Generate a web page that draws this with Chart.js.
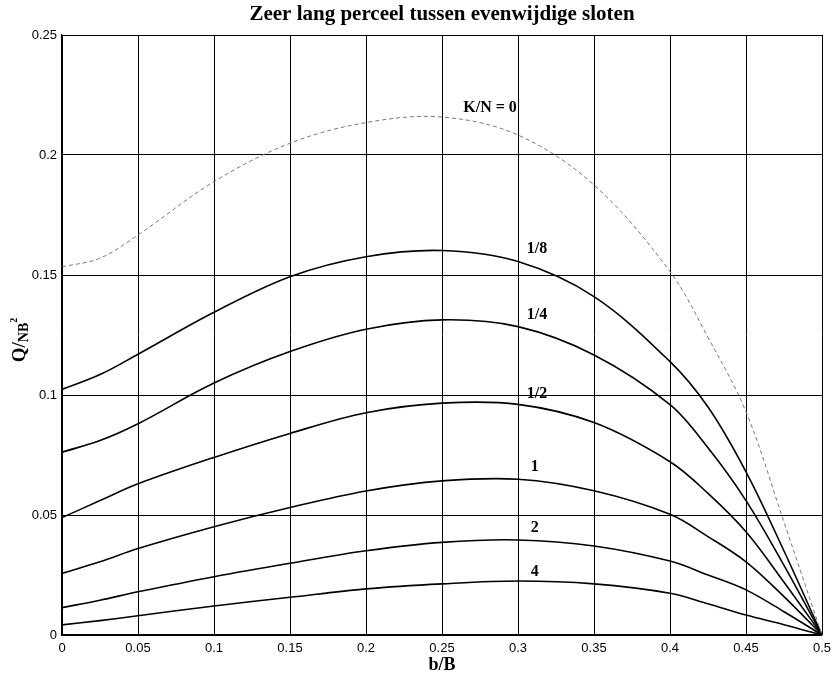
<!DOCTYPE html>
<html>
<head>
<meta charset="utf-8">
<script src="https://cdn.jsdelivr.net/npm/chart.js"></script>
<style>
  html, body { margin: 0; padding: 0; background: #fff; }
  #wrap { width: 834px; height: 678px; position: relative; }
</style>
</head>
<body>
<div id="wrap"><canvas id="myChart"></canvas></div>
<script>
"use strict"

const bOverB = [0, 0.025, 0.05, 0.1, 0.15, 0.2, 0.25, 0.3, 0.35, 0.4, 0.425, 0.45, 0.475, 0.5];

// Q/NB^2 for each K/N
const kn0   = [0.1534, 0.157, 0.1667, 0.1889, 0.2049, 0.2135, 0.2158, 0.2083, 0.1875, 0.1514, 0.124, 0.093, 0.047, 0];
const kn1_8 = [0.1023, 0.1085, 0.1170, 0.1345, 0.1493, 0.1576, 0.1602, 0.1556, 0.1410, 0.1139, 0.095, 0.068, 0.035, 0];
const kn1_4 = [0.0762, 0.0810, 0.0880, 0.1050, 0.1181, 0.1274, 0.1313, 0.1285, 0.1167, 0.096, 0.078, 0.056, 0.029, 0];
const kn1_2 = [0.0489, 0.0560, 0.0630, 0.0740, 0.0840, 0.0926, 0.0966, 0.0961, 0.0885, 0.0722, 0.059, 0.043, 0.022, 0];
const kn1   = [0.0257, 0.0305, 0.0360, 0.0451, 0.0531, 0.0600, 0.0642, 0.0649, 0.0601, 0.0503, 0.041, 0.0305, 0.016, 0];
const kn2   = [0.0114, 0.0145, 0.0180, 0.0243, 0.0299, 0.0351, 0.0386, 0.0396, 0.0371, 0.0308, 0.025, 0.0188, 0.0097, 0];
const kn4   = [0.0042, 0.0060, 0.0080, 0.0121, 0.0157, 0.0192, 0.0213, 0.0225, 0.0213, 0.0174, 0.013, 0.0083, 0.0043, 0];

const curveNames = ["K/N = 0", "1/8", "1/4", "1/2", "1", "2", "4"];
const curveData = [kn0, kn1_8, kn1_4, kn1_2, kn1, kn2, kn4];

// where the curve labels sit (in axis units)
const labelX = [0.2816, 0.3125, 0.3125, 0.3125, 0.311, 0.311, 0.311];
const labelY = [0.2198, 0.1608, 0.1335, 0.1004, 0.070, 0.0448, 0.0263];

const titleText = "Zeer lang perceel tussen evenwijdige sloten";

const ctx = document.getElementById('myChart');

const textPlugin = {
    id: 'textPlugin',
    afterDraw(chart) {
        const c = chart.ctx;
        const area = chart.chartArea;
        const x = chart.scales.x, y = chart.scales.y;
        c.save();
        c.fillStyle = '#000';

        // title
        c.font = 'bold 21px "Liberation Serif"';
        c.textAlign = 'center';
        c.textBaseline = 'alphabetic';
        c.fillText(titleText, (area.left + area.right) / 2, 20);

        // curve labels
        c.font = 'bold 16px "Liberation Serif"';
        c.textBaseline = 'middle';
        curveNames.forEach((t, i) => {
            c.fillText(t, x.getPixelForValue(labelX[i]), y.getPixelForValue(labelY[i]));
        });

        // y axis title: Q/ with subscript NB and superscript 2
        c.translate(25, 340);
        c.rotate(-Math.PI / 2);
        c.textAlign = 'left';
        c.textBaseline = 'alphabetic';
        const f1 = 'bold 19px "Liberation Serif"';
        const f2 = 'bold 14px "Liberation Serif"';
        const f3 = 'bold 10px "Liberation Serif"';
        c.font = f1; const w1 = c.measureText('Q/').width;
        c.font = f2; const w2 = c.measureText('NB').width;
        c.font = f3; const w3 = c.measureText('2').width;
        let px = -(w1 + w2 + w3) / 2;
        c.font = f1; c.fillText('Q/', px, 0); px += w1;
        c.font = f2; c.fillText('NB', px, 3); px += w2;
        c.font = f3; c.fillText('2', px, -8);
        c.restore();
    }
};

// 0.10 -> "0.1", 0.50 -> "0.5"
const shortNum = (v) => String(Number(Number(v).toFixed(2)));

new Chart(ctx, {
    type: 'line',
    data: {
        datasets: curveData.map((vals, i) => ({
            label: curveNames[i],
            data: bOverB.map((b, j) => ({ x: b, y: vals[j] })),
            borderColor: i === 0 ? '#777' : '#000',
            borderWidth: i === 0 ? 1 : 1.6,
            borderDash: i === 0 ? [4, 3] : [],
            pointRadius: 0,
            fill: false,
            tension: 0.35,
        }))
    },
    options: {
        responsive: true,
        maintainAspectRatio: false,
        animation: false,
        layout: { padding: { top: 35, right: 12, left: 0, bottom: 0 } },
        plugins: {
            legend: { display: false },
            tooltip: { enabled: false },
        },
        scales: {
            x: {
                type: 'linear',
                min: 0,
                max: 0.5,
                afterFit: (s) => { s.height = 43; s.paddingRight = 0; s.paddingLeft = 0; },
                ticks: {
                    stepSize: 0.05,
                    color: '#000',
                    padding: 6,
                    maxRotation: 0,
                    callback: shortNum,
                    font: { family: 'Liberation Sans', size: 13 },
                },
                grid: { color: '#000', lineWidth: 1, drawTicks: false },
                border: { color: '#000', width: 1.2 },
                title: {
                    display: true,
                    text: 'b/B',
                    color: '#000',
                    padding: { top: 0, bottom: 2 },
                    font: { family: 'Liberation Serif', size: 18, weight: 'bold' },
                },
            },
            y: {
                min: 0,
                max: 0.25,
                afterFit: (s) => { s.width = 62; },
                ticks: {
                    stepSize: 0.05,
                    color: '#000',
                    padding: 5,
                    callback: shortNum,
                    font: { family: 'Liberation Sans', size: 13 },
                },
                grid: { color: '#000', lineWidth: 1, drawTicks: false },
                border: { color: '#000', width: 1.2 },
            },
        },
    },
    plugins: [textPlugin],
});
</script>
</body>
</html>
